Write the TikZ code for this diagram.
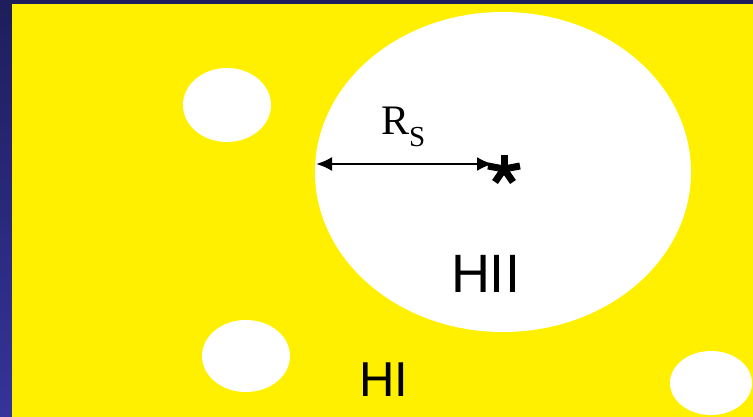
\documentclass[tikz,border=0pt]{standalone}
\usepackage{fontspec}
\setmainfont{Liberation Sans}
\newfontfamily\seriffam{Liberation Serif}
\usetikzlibrary{arrows.meta}
\definecolor{bgyellow}{HTML}{FFF000}
\definecolor{navytop}{HTML}{1E1E5C}
\definecolor{navybot}{HTML}{34349A}
\tikzset{
  hole/.style={fill=white},
  label/.style={inner sep=0pt, text=black},
  rsarrow/.style={line width=2.4pt, {Latex[length=16pt,width=14pt]}-{Latex[length=16pt,width=14pt]}},
  starline/.style={line width=7pt, black}
}
\begin{document}
\begin{tikzpicture}[x=1pt,y=-1pt]
\useasboundingbox (0,0) rectangle (753,417);
\shade[top color=navytop,bottom color=navybot] (0,0) rectangle (753,417);
\fill[bgyellow] (12,4) rectangle (753,417);
% HII regions
\fill[hole] (503,172) ellipse [x radius=188,y radius=160];
\fill[hole] (227,105) ellipse [x radius=44,y radius=37];
\fill[hole] (246,356) ellipse [x radius=44,y radius=36];
\fill[hole] (711,383) ellipse [x radius=41,y radius=32];
% star
\coordinate (star) at (504,169);
\draw[starline] (star) -- ++(0,-14);
\draw[starline] (star) -- ++(-16,-3);
\draw[starline] (star) -- ++(16,-3);
\draw[starline] (star) -- ++(-9,13);
\draw[starline] (star) -- ++(9,13);
% radius arrow
\coordinate (edge) at (316,164);
\coordinate (tip) at (493,164);
\draw[rsarrow] (edge) -- (tip);
\node[label, anchor=base west] (rs) at (381,135) {\seriffam\fontsize{42}{44}\selectfont R\raisebox{-12pt}{\fontsize{29}{31}\selectfont S}};
\node[label] (hii) at (485.5,273.5) {\fontsize{54}{56}\selectfont HII};
\node[label] (hi) at (383.5,380) {\fontsize{49}{51}\selectfont HI};
\end{tikzpicture}
\end{document}
